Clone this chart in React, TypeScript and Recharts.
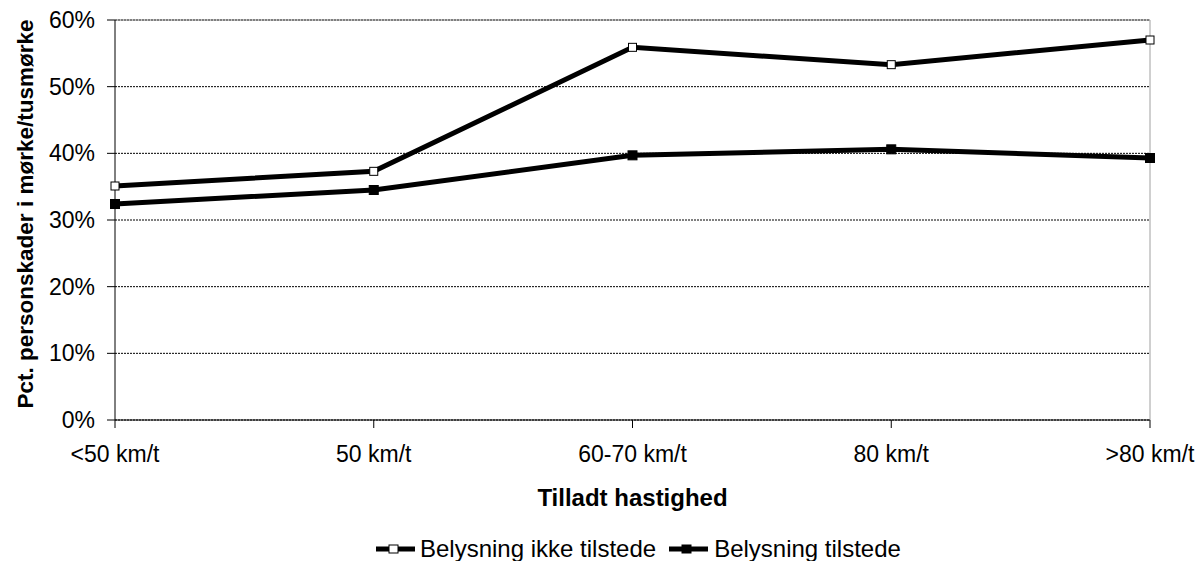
import { LineChart, Line, XAxis, YAxis, CartesianGrid, Legend, ReferenceLine, Label } from "recharts";

const categories = ["<50 km/t", "50 km/t", "60-70 km/t", "80 km/t", ">80 km/t"];
const ikkeTilstede = [0.351, 0.373, 0.559, 0.533, 0.570];
const tilstede = [0.324, 0.345, 0.397, 0.406, 0.393];
const yTicks = [0, 0.1, 0.2, 0.3, 0.4, 0.5, 0.6];

const data = categories.map((c, i) => ({
  name: c,
  ikke: ikkeTilstede[i],
  tilstede: tilstede[i],
}));

const FONT = "Arial, 'Liberation Sans', sans-serif";

const whiteDot = (props: any) => (
  <rect
    key={`w-${props.index}`}
    x={props.cx - 4}
    y={props.cy - 4}
    width={8}
    height={8}
    fill="#fff"
    stroke="#000"
    strokeWidth={1}
  />
);

const blackDot = (props: any) => (
  <rect
    key={`b-${props.index}`}
    x={props.cx - 4.5}
    y={props.cy - 4.5}
    width={9}
    height={9}
    fill="#000"
    stroke="#000"
  />
);

function LegendMarker({ filled }: { filled: boolean }) {
  return (
    <svg width={39} height={14} style={{ display: "block" }}>
      <line x1={0} y1={7} x2={39} y2={7} stroke="#000" strokeWidth={5} />
      <rect x={13} y={3} width={9} height={8} fill={filled ? "#000" : "#fff"} stroke="#000" />
    </svg>
  );
}

function renderLegend() {
  return (
    <div
      style={{
        display: "flex",
        alignItems: "center",
        height: 24,
        fontFamily: FONT,
        fontSize: 24,
        color: "#000",
        paddingLeft: 376,
      }}
    >
      <LegendMarker filled={false} />
      <span style={{ marginLeft: 5, marginRight: 13 }}>Belysning ikke tilstede</span>
      <LegendMarker filled={true} />
      <span style={{ marginLeft: 6 }}>Belysning tilstede</span>
    </div>
  );
}

export default function App() {
  return (
    <div style={{ position: "absolute", left: 0, top: 0, background: "#fff" }}>
      <LineChart width={1198} height={561} data={data} margin={{ top: 20, right: 48, bottom: 0, left: 0 }}>
        <CartesianGrid vertical={false} stroke="#000" strokeDasharray="2 1" />
        <ReferenceLine y={0.6} stroke="#808080" strokeWidth={1} />
        <ReferenceLine x=">80 km/t" stroke="#a0a0a0" strokeWidth={1} />
        <XAxis
          dataKey="name"
          height={117}
          axisLine={{ stroke: "#000" }}
          tickLine={{ stroke: "#000" }}
          tickSize={8}
          tickMargin={18}
          tick={{ fill: "#000", fontSize: 23, fontFamily: FONT }}
          interval={0}
        >
          <Label
            content={({ viewBox }: any) => (
              <text
                x={viewBox.x + viewBox.width / 2}
                y={viewBox.y + 86}
                textAnchor="middle"
                fontFamily={FONT}
                fontSize={24}
                fontWeight="bold"
                fill="#000"
              >
                Tilladt hastighed
              </text>
            )}
          />
        </XAxis>
        <YAxis
          width={115}
          domain={[0, 0.6]}
          ticks={yTicks}
          tickFormatter={(v: number) => `${Math.round(v * 100)}%`}
          axisLine={{ stroke: "#000" }}
          tickLine={{ stroke: "#000" }}
          tickSize={8}
          tickMargin={12}
          tick={{ fill: "#000", fontSize: 23, fontFamily: FONT }}
        >
          <Label
            content={({ viewBox }: any) => (
              <text
                x={33}
                y={viewBox.y + viewBox.height / 2 - 6}
                transform={`rotate(-90, 33, ${viewBox.y + viewBox.height / 2 - 6})`}
                textAnchor="middle"
                fontFamily={FONT}
                fontSize={22.5}
                fontWeight="bold"
                fill="#000"
              >
                Pct. personskader i mørke/tusmørke
              </text>
            )}
          />
        </YAxis>
        <Legend verticalAlign="bottom" content={renderLegend} />
        <Line
          type="linear"
          dataKey="ikke"
          name="Belysning ikke tilstede"
          stroke="#000"
          strokeWidth={5}
          dot={whiteDot}
          activeDot={false}
          isAnimationActive={false}
        />
        <Line
          type="linear"
          dataKey="tilstede"
          name="Belysning tilstede"
          stroke="#000"
          strokeWidth={5}
          dot={blackDot}
          activeDot={false}
          isAnimationActive={false}
        />
      </LineChart>
    </div>
  );
}
